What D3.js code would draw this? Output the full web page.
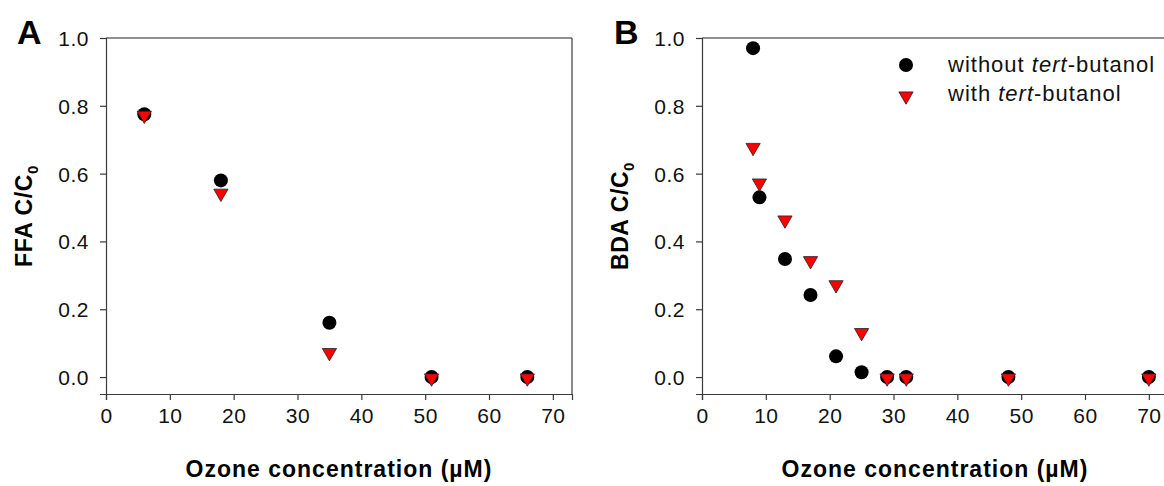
<!DOCTYPE html>
<html>
<head>
<meta charset="utf-8">
<script src="https://cdn.jsdelivr.net/npm/d3@7"></script>
<style>
  body { margin: 0; background: #fff; }
  svg { font-family: "Liberation Sans", Arial, sans-serif; }
</style>
</head>
<body>
<svg width="1164" height="486"></svg>
<script>
// panel A: FFA
var ffaX = [6, 18, 35, 51, 66];
var ffaWithout = [0.775, 0.58, 0.16, 0, 0];
var ffaWith = [0.775, 0.545, 0.075, 0, 0];

// panel B: BDA
var bdaXWithout = [8, 9, 13, 17, 21, 25, 29, 32, 48, 70];
var bdaWithout = [0.97, 0.53, 0.348, 0.242, 0.061, 0.014, 0, 0, 0, 0];
var bdaXWith = [8, 9, 13, 17, 21, 25, 29, 32, 48, 70];
var bdaWith = [0.68, 0.575, 0.466, 0.346, 0.275, 0.134, 0, 0, 0, 0];

var xTicks = [0, 10, 20, 30, 40, 50, 60, 70];
var yTicks = [0, 0.2, 0.4, 0.6, 0.8, 1.0];
var legendLabels = ["without", "with"];

var svg = d3.select("svg");
var axisColor = "#3a3a3a";

var tri = d3.symbol().type(d3.symbolTriangle).size(88);

function panel(opt) {
  var x = d3.scaleLinear().domain([0, 73]).range([opt.left, opt.left + 466]);
  var y = d3.scaleLinear().domain([-0.05, 1.0]).range([394, 38]);

  var g = svg.append("g");

  // frame (top / right)
  g.append("line").attr("x1", x(0)).attr("x2", x(73)).attr("y1", y(1)).attr("y2", y(1))
    .attr("stroke", "#222").attr("stroke-width", 1.2);
  g.append("line").attr("x1", x(73)).attr("x2", x(73)).attr("y1", y(1)).attr("y2", y(-0.05))
    .attr("stroke", axisColor).attr("stroke-width", 1.2);

  var xa = g.append("g").attr("transform", "translate(0," + y(-0.05) + ")")
    .call(d3.axisBottom(x).tickValues(xTicks).tickSize(6).tickPadding(8).tickFormat(d3.format("d")));
  var ya = g.append("g").attr("transform", "translate(" + x(0) + ",0)")
    .call(d3.axisLeft(y).tickValues(yTicks).tickSize(6).tickPadding(11).tickFormat(d3.format(".1f")));
  [xa, ya].forEach(function(a) {
    a.select(".domain").attr("stroke", axisColor).attr("stroke-width", 1.2);
    a.selectAll(".tick line").attr("stroke", axisColor).attr("stroke-width", 1.2);
    a.selectAll(".tick text").attr("fill", "#111").style("font-size", "21px")
      .style("letter-spacing", "0.5px")
      .style("font-family", "'Liberation Sans', Arial, sans-serif");
  });
  ya.selectAll(".tick text").attr("dy", "0.36em");

  // axis titles
  g.append("text")
    .attr("x", (x(0) + x(73)) / 2).attr("y", 477)
    .attr("text-anchor", "middle").attr("font-weight", "bold").attr("font-size", "23px")
    .attr("letter-spacing", "1px")
    .text("Ozone concentration (\u00b5M)");

  var yl = g.append("text")
    .attr("transform", "translate(" + opt.ylabX + ",216) rotate(-90)")
    .attr("text-anchor", "middle").attr("font-weight", "bold").attr("font-size", "23px")
    .attr("letter-spacing", "0.6px");
  yl.append("tspan").text(opt.ylab + " C/C");
  yl.append("tspan").attr("font-size", "15px").attr("dy", 6).text("0");

  // panel letter
  g.append("text").attr("x", opt.letterX).attr("y", 44)
    .attr("font-weight", "bold").attr("font-size", "34px").text(opt.letter);

  // points: circles then triangles
  g.selectAll(".c").data(opt.xw.map(function(v, i) { return [v, opt.without[i]]; }))
    .enter().append("circle")
    .attr("cx", function(d) { return x(d[0]); })
    .attr("cy", function(d) { return y(d[1]); })
    .attr("r", 7).attr("fill", "#000");

  g.selectAll(".t").data(opt.xt.map(function(v, i) { return [v, opt.withT[i]]; }))
    .enter().append("path")
    .attr("d", tri)
    .attr("transform", function(d) { return "translate(" + x(d[0]) + "," + (y(d[1]) + 1) + ") rotate(180)"; })
    .attr("fill", "#ff0000").attr("stroke", "#222").attr("stroke-width", 0.8);

  return { x: x, y: y, g: g };
}

panel({ left: 106, ylab: "FFA", ylabX: 32, letter: "A", letterX: 17,
  xw: ffaX, without: ffaWithout, xt: ffaX, withT: ffaWith });

panel({ left: 702, ylab: "BDA", ylabX: 628, letter: "B", letterX: 614,
  xw: bdaXWithout, without: bdaWithout, xt: bdaXWith, withT: bdaWith });

// legend
var leg = svg.append("g");
leg.append("circle").attr("cx", 906).attr("cy", 65).attr("r", 7).attr("fill", "#000");
leg.append("path").attr("d", tri).attr("transform", "translate(906,96) rotate(180)")
  .attr("fill", "#ff0000").attr("stroke", "#222").attr("stroke-width", 0.8);

legendLabels.forEach(function(lbl, i) {
  var t = leg.append("text").attr("x", 948).attr("y", 72 + i * 29).attr("font-size", "22px")
    .attr("letter-spacing", "1px").attr("fill", "#111");
  t.append("tspan").text(lbl + " ");
  t.append("tspan").attr("font-style", "italic").text("tert");
  t.append("tspan").text("-butanol");
});
</script>
</body>
</html>
